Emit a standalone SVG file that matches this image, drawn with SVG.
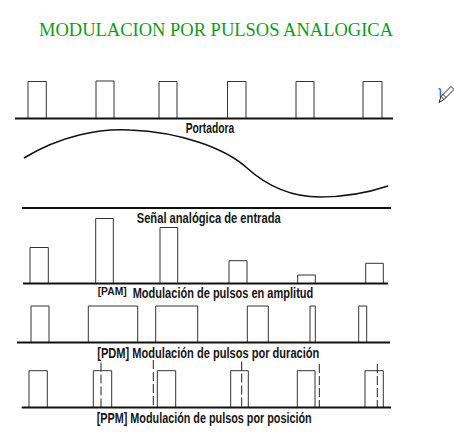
<svg xmlns="http://www.w3.org/2000/svg" width="454" height="435" viewBox="0 0 454 435">
<style>
.bg{fill:#ffffff}
.title{font-family:"Liberation Serif","Times New Roman",serif;font-size:18.5px;fill:#0f9a1e}
.lbl{font-family:"Liberation Sans Narrow","Liberation Sans",Arial,sans-serif;font-weight:bold;font-size:14px;fill:#151515}
.tag{font-family:"Liberation Sans Narrow","Liberation Sans",Arial,sans-serif;font-weight:bold;font-size:11.5px;fill:#151515}
.pulse{fill:none;stroke:#333333;stroke-width:1}
.base{fill:none;stroke:#111111;stroke-width:2}
.curve{fill:none;stroke:#111111;stroke-width:1.6}
.dash{fill:none;stroke:#222222;stroke-width:1;stroke-dasharray:9,3}
</style>
<rect class="bg" x="0" y="0" width="454" height="435"/>
<text class="title" x="39" y="35.5" textLength="354" lengthAdjust="spacingAndGlyphs">MODULACION POR PULSOS ANALOGICA</text>

<g id="portadora">
<path class="pulse" d="M28,118 V81.5 H46.3 V118 M96,118 V81 H114 V118 M159,118 V81.5 H177 V118 M227.5,118 V81.5 H246 V118 M296,118 V81.5 H314 V118 M363,118 V81.5 H382 V118"/>
<line class="base" x1="15" y1="118.5" x2="393" y2="118.5"/>
<text class="lbl" x="185.7" y="132.5" textLength="48.6" lengthAdjust="spacingAndGlyphs">Portadora</text>
</g>

<g id="senal">
<path class="curve" d="M24,158 C60,136 100,128 130,130 C180,132 225,148 247,168 C267,186 290,197 320,197 C350,197 370,192 388,186"/>
<line class="base" x1="22" y1="208" x2="391" y2="208"/>
<text class="lbl" x="136.7" y="222.5" textLength="144" lengthAdjust="spacingAndGlyphs">Señal analógica de entrada</text>
</g>

<g id="pam">
<path class="pulse" d="M30,283 V247.5 H48.3 V283 M95.7,283 V218.5 H113.3 V283 M160,283 V227.5 H177.7 V283 M229,283 V260.7 H247 V283 M297.7,283 V275 H315.3 V283 M365.7,283 V263.3 H383.3 V283"/>
<line class="base" x1="23" y1="283.5" x2="388" y2="283.5"/>
<text class="tag" x="97.7" y="294.5" textLength="29" lengthAdjust="spacingAndGlyphs">[PAM]</text>
<text class="lbl" x="132.7" y="298" textLength="180.6" lengthAdjust="spacingAndGlyphs">Modulación de pulsos en amplitud</text>
</g>

<g id="pdm">
<path class="pulse" d="M31,342 V306 H49 V342 M88.3,342 V306 H137.7 V342 M155.7,342 V306 H197.7 V342 M247.3,342 V306 H268.3 V342 M310,342 V306 H315.3 V342 M358.7,342 V306 H366.7 V342"/>
<line class="base" x1="17" y1="342.5" x2="390" y2="342.5"/>
<text class="lbl" x="97.3" y="358" textLength="222" lengthAdjust="spacingAndGlyphs">[PDM] Modulación de pulsos por duración</text>
</g>

<g id="ppm">
<path class="pulse" d="M29,407 V370.7 H47.3 V407 M93.3,407 V370.7 H111.7 V407 M157.3,407 V370.7 H175.7 V407 M230.7,407 V370.7 H248.3 V407 M297.3,407 V370.7 H315 V407 M365,407 V370.7 H383.3 V407"/>
<path class="dash" d="M101,362.5 V407 M153.3,360 V407 M241.7,361.5 V407 M319.3,364 V407 M377.3,364 V407"/>
<line class="base" x1="21.7" y1="407.5" x2="391" y2="407.5"/>
<text class="lbl" x="96.7" y="423" textLength="215" lengthAdjust="spacingAndGlyphs">[PPM] Modulación de pulsos por posición</text>
</g>

<g id="icono-lapiz">
<path d="M438.5,89 Q440.5,88 440.5,91 V97" fill="none" stroke="#3a6fd8" stroke-width="1.6"/>
<path d="M439,102.5 L441,96.5 L451,86.5 L454,89.5 L444,99.5 Z M441,96.5 L444,99.5 M443,94.5 L446,97.5" fill="none" stroke="#222222" stroke-width="1"/>
</g>
</svg>
